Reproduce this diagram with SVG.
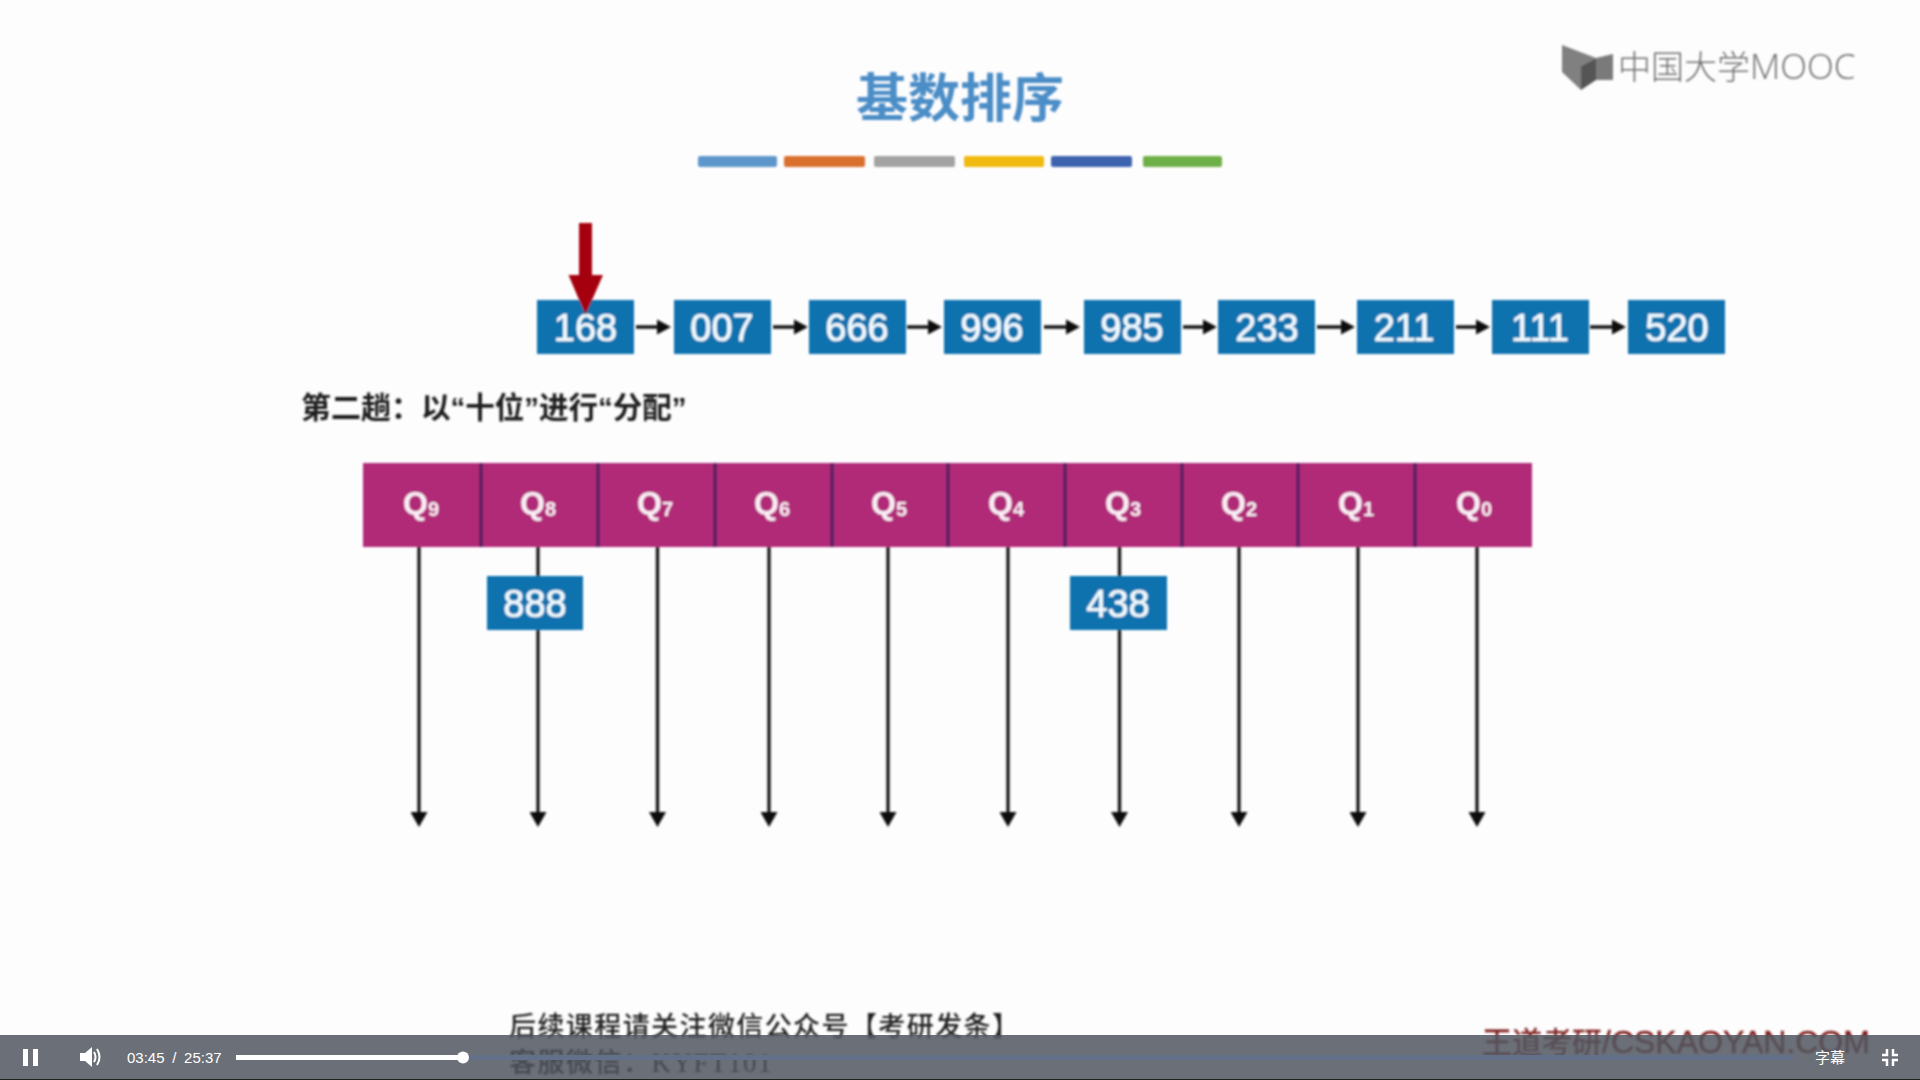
<svg xmlns="http://www.w3.org/2000/svg" width="1920" height="1080" viewBox="0 0 1920 1080">
<style>
.box{fill:#0f72ae}
.bt{font:38px "Liberation Sans",Arial,sans-serif;fill:#f2fbff;text-anchor:middle;stroke:#f2fbff;stroke-width:.7}
.q{font:bold 32px "Liberation Sans",Arial,sans-serif;fill:#fbeef6}
.qs{font:bold 20px "Liberation Sans",Arial,sans-serif;fill:#fbeef6}
.cjk{font-family:"Liberation Sans","Noto Sans CJK SC",sans-serif}
.v{stroke:#1c1c1c;stroke-width:3.4;fill:none;marker-end:url(#ah)}
.h{stroke:#1c1c1c;stroke-width:3.6;fill:none;marker-end:url(#ahs)}
.div{stroke:#4a1a5e;stroke-width:3}
.ui{font:15px "Liberation Sans",Arial,sans-serif;fill:#fff}
</style>
<defs>
<marker id="ah" markerUnits="userSpaceOnUse" markerWidth="17" markerHeight="17" refX="0" refY="8.5" orient="auto"><path d="M0 0L15 8.5L0 17z" fill="#111"/></marker>
<marker id="ahs" markerUnits="userSpaceOnUse" markerWidth="15" markerHeight="17" refX="0" refY="8.5" orient="auto"><path d="M0 1L14 8.5L0 16z" fill="#111"/></marker>
<filter id="soft" x="-2%" y="-2%" width="104%" height="104%"><feGaussianBlur stdDeviation="0.8"/></filter>
</defs>
<rect width="1920" height="1080" fill="#fefdfe"/>
<g filter="url(#soft)">
<g id="logo">
<polygon points="1562,45 1596,58 1581,66 1581,90 1562,72" fill="#808080"/>
<polygon points="1581,66 1596,58 1596,80 1581,90" fill="#555"/>
<polygon points="1596,58 1613,54 1613,80 1596,80" fill="#7a7a7a"/>
<text x="1618" y="79" font-family="'Open Sans','Noto Sans CJK SC',sans-serif" font-size="33" font-weight="300" fill="#6e6e6e">中国大学<tspan font-size="35">MOOC</tspan></text>
</g>
<g id="title">
<text x="960" y="117" font-family="'Noto Sans CJK SC',sans-serif" font-weight="700" font-size="52" fill="#4c8dc6" text-anchor="middle">基数排序</text>
<rect x="698" y="156" width="79" height="11" rx="2" fill="#5b96cb"/>
<rect x="784" y="156" width="81" height="11" rx="2" fill="#d96f2f"/>
<rect x="874" y="156" width="81" height="11" rx="2" fill="#a3a3a3"/>
<rect x="964" y="156" width="80" height="11" rx="2" fill="#f0b90a"/>
<rect x="1051" y="156" width="81" height="11" rx="2" fill="#3c64ae"/>
<rect x="1143" y="156" width="79" height="11" rx="2" fill="#6eaf46"/>
</g>
<text id="subtitle" x="301" y="418" class="cjk" font-size="30" font-weight="700" fill="#1c1c1c">第二趟：<tspan x="421" font-size="29.500">以“十位”进行“分配”</tspan></text>
<g id="queues">
<rect x="363" y="463" width="1169" height="84" fill="#b02a78"/>
<path class="div" d="M481 463V547M598 463V547M715 463V547M832 463V547M948 463V547M1065 463V547M1182 463V547M1298 463V547M1415 463V547"/>
</g>
<g id="Q9"><text x="403" y="514" class="q">Q<tspan class="qs" dy="2">9</tspan></text></g>
<g id="Q8"><text x="520" y="514" class="q">Q<tspan class="qs" dy="2">8</tspan></text></g>
<g id="Q7"><text x="637" y="514" class="q">Q<tspan class="qs" dy="2">7</tspan></text></g>
<g id="Q6"><text x="754" y="514" class="q">Q<tspan class="qs" dy="2">6</tspan></text></g>
<g id="Q5"><text x="871" y="514" class="q">Q<tspan class="qs" dy="2">5</tspan></text></g>
<g id="Q4"><text x="988" y="514" class="q">Q<tspan class="qs" dy="2">4</tspan></text></g>
<g id="Q3"><text x="1105" y="514" class="q">Q<tspan class="qs" dy="2">3</tspan></text></g>
<g id="Q2"><text x="1221" y="514" class="q">Q<tspan class="qs" dy="2">2</tspan></text></g>
<g id="Q1"><text x="1338" y="514" class="q">Q<tspan class="qs" dy="2">1</tspan></text></g>
<g id="Q0"><text x="1456" y="514" class="q">Q<tspan class="qs" dy="2">0</tspan></text></g>
<g id="connectors">
<path class="v" d="M419 547V812"/><path class="v" d="M538 547V812"/><path class="v" d="M657.500 547V812"/><path class="v" d="M769 547V812"/><path class="v" d="M888 547V812"/><path class="v" d="M1008 547V812"/><path class="v" d="M1119.500 547V812"/><path class="v" d="M1239 547V812"/><path class="v" d="M1358 547V812"/><path class="v" d="M1477 547V812"/>
<path class="h" d="M636 327H657"/><path class="h" d="M773 327H794"/><path class="h" d="M907 327H928"/><path class="h" d="M1044 327H1066"/><path class="h" d="M1183 327H1203"/><path class="h" d="M1317 327H1341"/><path class="h" d="M1456 327H1476"/><path class="h" d="M1590 327H1612"/>
</g>
<g id="n168"><rect class="box" x="537" y="300" width="97" height="54"/><text class="bt" x="585.500" y="341">168</text></g>
<g id="n007"><rect class="box" x="674" y="300" width="97" height="54"/><text class="bt" x="722" y="341">007</text></g>
<g id="n666"><rect class="box" x="809" y="300" width="97" height="54"/><text class="bt" x="857" y="341">666</text></g>
<g id="n996"><rect class="box" x="944" y="300" width="97" height="54"/><text class="bt" x="992" y="341">996</text></g>
<g id="n985"><rect class="box" x="1084" y="300" width="97" height="54"/><text class="bt" x="1132" y="341">985</text></g>
<g id="n233"><rect class="box" x="1218" y="300" width="97" height="54"/><text class="bt" x="1267" y="341">233</text></g>
<g id="n211"><rect class="box" x="1357" y="300" width="97" height="54"/><text class="bt" x="1404" y="341">211</text></g>
<g id="n111"><rect class="box" x="1492" y="300" width="97" height="54"/><text class="bt" x="1540" y="341">111</text></g>
<g id="n520"><rect class="box" x="1628" y="300" width="97" height="54"/><text class="bt" x="1677" y="341">520</text></g>
<g id="n888"><rect class="box" x="487" y="576" width="96" height="54"/><text class="bt" x="535" y="617">888</text></g>
<g id="n438"><rect class="box" x="1070" y="576" width="97" height="54"/><text class="bt" x="1118" y="617">438</text></g>
<g id="pointer"><path d="M579 223H592V275H603L585.500 315L568.500 275H579z" fill="#a50010"/></g>
<g id="footer">
<text x="509" y="1036" font-family="'Noto Sans CJK SC',sans-serif" font-size="27" font-weight="500" fill="#222" textLength="510">后续课程请关注微信公众号【考研发条】</text>
<text x="509" y="1072" font-family="'Liberation Serif','Noto Sans CJK SC',serif" font-size="27" font-weight="500" fill="#000" letter-spacing="1.500">客服微信：KYFT101</text>
<text x="1482" y="1053" class="cjk" font-size="30" fill="#7e1f1f" stroke="#7e1f1f" stroke-width=".4">王道考研<tspan font-size="32">/CSKAOYAN.COM</tspan></text>
</g>
</g>
<g id="player">
<rect x="0" y="1035" width="1920" height="45" fill="#51565f" fill-opacity=".85"/>
<rect x="0" y="1079" width="1920" height="1" fill="#222"/>
<rect x="463" y="1055" width="1330" height="5" fill="#627088"/>
<rect x="236" y="1055" width="227" height="5" fill="#fff"/>
<circle cx="463" cy="1057.500" r="6" fill="#fff"/>
<rect x="23" y="1049" width="5" height="17" fill="#fff"/><rect x="33" y="1049" width="5" height="17" fill="#fff"/>
<path d="M80 1053H85L92 1047V1067L85 1061H80z" fill="#fff"/>
<path d="M94 1052Q97 1057 94 1062M97 1049Q102 1057 97 1065" stroke="#fff" stroke-width="2" fill="none"/>
<text x="127" y="1063" class="ui" word-spacing="3.500">03:45 / 25:37</text>
<text x="1815" y="1063" font-family="'Noto Sans CJK SC',sans-serif" font-size="15" fill="#fff">字幕</text>
<path d="M1887 1049V1055H1882M1893 1049V1055H1898M1887 1066V1060H1882M1893 1066V1060H1898" stroke="#fff" stroke-width="2.500" fill="none"/>
</g>
</svg>
